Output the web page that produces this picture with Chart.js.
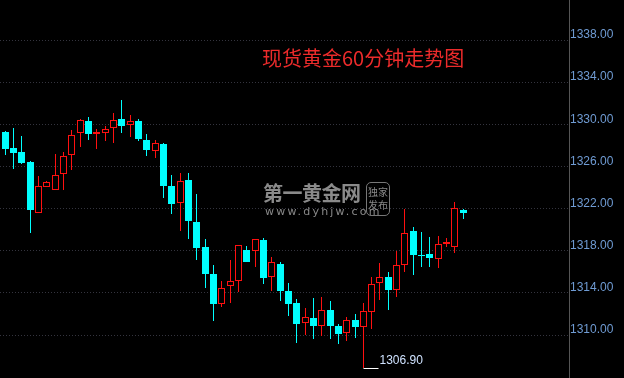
<!DOCTYPE html>
<html>
<head>
<meta charset="utf-8">
<script src="https://cdn.jsdelivr.net/npm/chart.js@4"></script>
<style>
  html, body { margin: 0; padding: 0; background: #000; }
  #wrap { position: relative; width: 624px; height: 378px; overflow: hidden; }
  #title {
    position: absolute; left: 262px; top: 45px; white-space: nowrap;
    font: 20px "Noto Sans CJK SC", sans-serif; line-height: 26px; color: #ec2b2b;
  }
  #wm { position: absolute; left: 263px; top: 180px; color: #8a8a8a; }
  #wm .big { font: bold 20px "Noto Sans CJK SC", sans-serif; line-height: 26px; letter-spacing: -0.5px; white-space: nowrap; }
  #wm .url { font: 11px "DejaVu Sans", sans-serif; letter-spacing: 2.2px; line-height: 12px; margin-left: 2px; }
  #wm .box {
    position: absolute; left: 103px; top: 2px; width: 22px; height: 30px;
    border: 1px solid #777; border-radius: 5px;
    font: 10px "Noto Sans CJK SC", sans-serif; line-height: 13px; text-align: center; color: #888;
    padding-top: 2px;
  }
</style>
</head>
<body>
<div id="wrap">
  <canvas id="kline" width="624" height="378"></canvas>
  <div id="title">现货黄金60分钟走势图</div>
  <div id="wm">
    <div class="big">第一黄金网</div>
    <div class="url">www.dyhjw.com</div>
    <div class="box">独家<br>发布</div>
  </div>
</div>
<script>
// 60分钟K线 (开, 高, 低, 收)
const opens  = [1329.27, 1327.75, 1327.37, 1326.42, 1321.61, 1324.08, 1323.73, 1325.25, 1327.06, 1329.20,
                1330.31, 1329.15, 1329.14, 1329.62, 1330.50, 1329.90, 1330.31, 1328.51, 1327.49, 1328.13,
                1324.14, 1322.50, 1324.71, 1320.73, 1318.35, 1315.79, 1312.97, 1314.62, 1315.15, 1318.07,
                1317.94, 1319.02, 1315.48, 1316.74, 1314.18, 1313.04, 1311.11, 1311.61, 1310.88, 1312.37,
                1310.83, 1310.22, 1311.42, 1310.79, 1312.21, 1314.96, 1315.51, 1314.32, 1316.62, 1319.87,
                1317.57, 1317.69, 1317.24, 1318.66, 1318.38, 1321.87];
const highs  = [1329.36, 1329.65, 1328.89, 1326.52, 1325.09, 1324.62, 1327.18, 1327.37, 1329.46, 1330.50,
                1330.69, 1329.55, 1329.84, 1331.07, 1332.31, 1330.88, 1330.50, 1329.08, 1328.51, 1328.22,
                1325.19, 1325.38, 1325.38, 1323.38, 1319.11, 1316.64, 1315.13, 1317.12, 1318.54, 1318.45,
                1319.11, 1319.21, 1317.40, 1316.93, 1314.94, 1313.42, 1312.56, 1313.51, 1313.61, 1313.23,
                1311.04, 1311.71, 1311.99, 1313.04, 1315.51, 1316.83, 1316.01, 1317.97, 1321.93, 1320.25,
                1319.78, 1319.30, 1319.40, 1319.24, 1322.62, 1321.96];
const lows   = [1327.11, 1325.78, 1326.26, 1319.71, 1321.61, 1324.08, 1323.73, 1323.79, 1325.69, 1327.82,
                1328.54, 1327.68, 1328.44, 1328.25, 1329.20, 1328.82, 1328.44, 1327.02, 1326.83, 1323.03,
                1321.51, 1319.90, 1319.14, 1317.15, 1314.49, 1311.36, 1312.69, 1313.07, 1314.11, 1316.93,
                1316.48, 1314.87, 1314.21, 1313.26, 1311.83, 1309.27, 1310.03, 1309.65, 1309.91, 1309.62,
                1309.18, 1309.46, 1309.74, 1306.90, 1310.57, 1313.32, 1312.37, 1313.64, 1315.95, 1315.72,
                1316.45, 1316.45, 1316.36, 1318.38, 1317.78, 1321.01];
const closes = [1327.68, 1327.30, 1326.35, 1321.89, 1324.14, 1324.52, 1325.19, 1326.99, 1328.98, 1330.41,
                1329.11, 1329.19, 1329.52, 1330.38, 1329.87, 1330.28, 1328.63, 1327.59, 1328.22, 1324.17,
                1322.46, 1324.59, 1320.85, 1318.29, 1315.82, 1312.97, 1314.43, 1315.13, 1318.54, 1316.93,
                1319.11, 1315.44, 1316.93, 1314.21, 1312.97, 1311.07, 1311.68, 1310.88, 1312.37, 1310.88,
                1310.12, 1311.42, 1310.79, 1312.28, 1314.84, 1315.51, 1314.27, 1316.64, 1319.65, 1317.62,
                1317.53, 1317.34, 1318.64, 1318.83, 1322.03, 1321.61];
const priceTicks = [1310, 1314, 1318, 1322, 1326, 1330, 1334, 1338];
const sessionBreaks = [23];

const UP = '#ff1010';
const DOWN = '#00ffff';
const isUp = i => closes[i] >= opens[i];

const bodies = opens.map((o, i) => {
    let lo = Math.min(o, closes[i]);
    let hi = Math.max(o, closes[i]);
    if (hi - lo < 0.12) {
        const mid = (hi + lo) / 2;
        lo = mid - 0.06;
        hi = mid + 0.06;
    }
    return { x: i, y: [lo, hi] };
});
const wicks = highs.map((h, i) => ({ x: i, y: [lows[i], h] }));

// 对齐像素, 让K线边缘清晰
const pixelSnap = {
    id: 'pixelSnap',
    afterDatasetsUpdate(chart) {
        chart.data.datasets.forEach((ds, di) => {
            chart.getDatasetMeta(di).data.forEach(el => {
                el.x = Math.floor(el.x) + 0.5;
                el.y = Math.round(el.y);
                el.base = Math.round(el.base);
                if (el.base - el.y < 1) el.base = el.y + 1;
            });
        });
    }
};

// 最低点标注
const lowMarker = {
    id: 'lowMarker',
    afterDatasetsDraw(chart) {
        const { ctx, scales: { x, y } } = chart;
        let idx = 0;
        lows.forEach((v, i) => { if (v < lows[idx]) idx = i; });
        const px = Math.floor(x.getPixelForValue(idx)) + 0.5;
        const py = Math.round(y.getPixelForValue(lows[idx])) + 0.5;
        ctx.save();
        ctx.strokeStyle = '#ffffff';
        ctx.lineWidth = 1;
        ctx.beginPath();
        ctx.moveTo(px, py);
        ctx.lineTo(px + 15, py);
        ctx.stroke();
        ctx.fillStyle = '#cfe2ff';
        ctx.font = '12px "Liberation Sans", Arial, sans-serif';
        ctx.textBaseline = 'middle';
        ctx.fillText(lows[idx].toFixed(2), px + 16, py - 8);
        ctx.restore();
    }
};

const gridColor = '#34343e';

new Chart(document.getElementById('kline'), {
    type: 'bar',
    data: {
        datasets: [
            {
                data: bodies,
                grouped: false,
                barThickness: 7,
                borderSkipped: false,
                inflateAmount: 0,
                backgroundColor: c => isUp(c.dataIndex) ? '#000000' : DOWN,
                borderColor: c => isUp(c.dataIndex) ? UP : DOWN,
                borderWidth: c => isUp(c.dataIndex) ? 1 : 0
            },
            {
                data: wicks,
                grouped: false,
                barThickness: 1,
                borderSkipped: false,
                inflateAmount: 0,
                backgroundColor: c => isUp(c.dataIndex) ? UP : DOWN,
                borderWidth: 0
            }
        ]
    },
    options: {
        responsive: false,
        animation: false,
        layout: { padding: 0 },
        plugins: {
            legend: { display: false },
            tooltip: { enabled: false }
        },
        scales: {
            x: {
                type: 'linear',
                offset: false,
                min: -0.64,
                max: 67.7,
                afterBuildTicks: s => { s.ticks = sessionBreaks.map(v => ({ value: v })); },
                afterFit: s => { s.height = 0; s.paddingLeft = 0; s.paddingRight = 0; },
                ticks: { display: false },
                grid: { color: gridColor, drawTicks: false },
                border: { display: false, dash: [1, 2] }
            },
            y: {
                position: 'right',
                min: 1305.92,
                max: 1341.8,
                afterBuildTicks: s => { s.ticks = priceTicks.map(v => ({ value: v })); },
                afterFit: s => { s.width = 55; s.paddingTop = 0; s.paddingBottom = 0; },
                ticks: {
                    color: '#6f9bd3',
                    padding: 1,
                    labelOffset: -5,
                    font: { family: '"Liberation Sans", Arial, sans-serif', size: 12 },
                    callback: v => v.toFixed(2)
                },
                grid: { color: gridColor, drawTicks: false },
                border: { display: true, color: '#555555', dash: [1, 2] }
            }
        }
    },
    plugins: [pixelSnap, lowMarker]
});
</script>
</body>
</html>
